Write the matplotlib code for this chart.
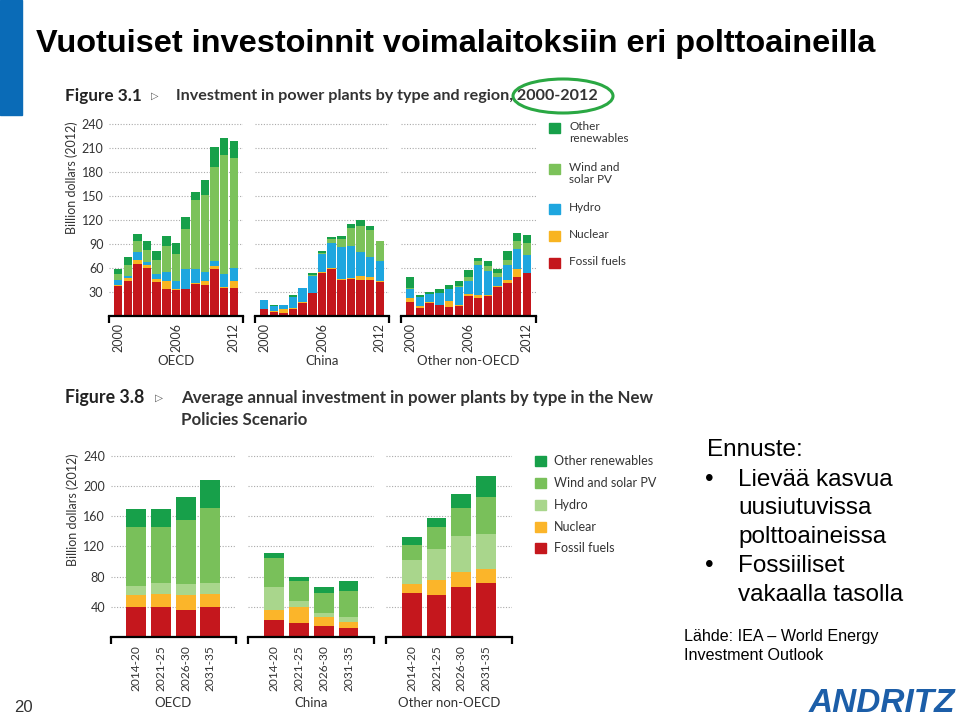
import matplotlib
matplotlib.use("Agg")
import matplotlib.pyplot as plt
from matplotlib.patches import Rectangle, Ellipse
import numpy as np

# ---------------- data ----------------
years = [str(y) for y in range(2000, 2013)]
year_ticks = ["2000", "2006", "2012"]
periods = ["2014-20", "2021-25", "2026-30", "2031-35"]
regions = ["OECD", "China", "Other non-OECD"]
series_hist = ["Fossil fuels", "Nuclear", "Hydro", "Wind and solar PV", "Other renewables"]

# historical (Figure 3.1), billion dollars (2012)
oecd_fossil = [37, 44, 65, 60, 42, 33, 32, 33, 40, 38, 58, 35, 35]
oecd_nuclear = [2, 3, 5, 3, 4, 11, 1, 1, 1, 5, 4, 1, 9]
oecd_hydro = [6, 3, 10, 4, 6, 11, 11, 25, 18, 12, 7, 16, 16]
oecd_wind = [7, 14, 14, 15, 18, 32, 33, 49, 86, 96, 117, 149, 137]
oecd_other = [7, 10, 8, 11, 11, 13, 14, 16, 10, 19, 25, 22, 22]

china_fossil = [8, 5, 3, 8, 16, 28, 53, 58, 45, 46, 45, 45, 42]
china_nuclear = [0, 1, 5, 2, 1, 1, 2, 2, 1, 1, 5, 4, 2]
china_hydro = [12, 6, 5, 13, 18, 21, 22, 31, 40, 40, 30, 24, 25]
china_wind = [0, 0, 0, 1, 0, 1, 2, 5, 10, 23, 32, 34, 25]
china_other = [0, 1, 0, 2, 0, 2, 2, 3, 4, 5, 8, 5, 0]

onon_fossil = [17, 10, 16, 13, 11, 12, 25, 22, 25, 36, 41, 49, 54]
onon_nuclear = [5, 2, 1, 1, 7, 1, 2, 4, 1, 1, 4, 10, 0]
onon_hydro = [12, 12, 10, 14, 15, 23, 17, 37, 30, 11, 18, 24, 22]
onon_wind = [1, 0, 0, 0, 1, 1, 4, 5, 6, 6, 7, 11, 15]
onon_other = [13, 2, 3, 6, 4, 7, 9, 4, 6, 5, 11, 9, 10]

# projections (Figure 3.8)
p_oecd_fossil = [39, 39, 35, 39]
p_oecd_nuclear = [16, 18, 20, 18]
p_oecd_hydro = [12, 14, 15, 14]
p_oecd_wind = [78, 74, 85, 100]
p_oecd_other = [25, 25, 30, 37]

p_china_fossil = [23, 18, 15, 12]
p_china_nuclear = [13, 21, 12, 8]
p_china_hydro = [30, 8, 5, 6]
p_china_wind = [38, 27, 26, 35]
p_china_other = [7, 6, 8, 13]

p_onon_fossil = [58, 56, 66, 71]
p_onon_nuclear = [12, 19, 20, 19]
p_onon_hydro = [32, 41, 48, 47]
p_onon_wind = [20, 29, 37, 49]
p_onon_other = [10, 12, 19, 27]

yticks_top = [30, 60, 90, 120, 150, 180, 210, 240]
yticks_bot = [40, 80, 120, 160, 200, 240]

# ---------------- styles ----------------
W, H = 960, 720
col_top = ["#c4161c", "#f8b421", "#1ea6df", "#7cc25a", "#17a04a"]
col_bot = ["#c5171d", "#fbb52a", "#a9d68c", "#79c05a", "#17a04a"]
chart_font = ["Lato", "DejaVu Sans"]
txtc = "#333333"

fig = plt.figure(figsize=(9.6, 7.2), dpi=100)
fig.patch.set_facecolor("white")


def fx(x):
    return x / W


def fy(y):
    return 1 - y / H


def add_ax(x0, x1, ytop, ybot):
    return fig.add_axes([fx(x0), fy(ybot), fx(x1) - fx(x0), (ybot - ytop) / H])


def style_ax(ax, yticks, show_y, xlim, ylim):
    ax.set_xlim(*xlim)
    ax.set_ylim(*ylim)
    for s in ["top", "right", "left"]:
        ax.spines[s].set_visible(False)
    ax.spines["bottom"].set_linewidth(1.6)
    ax.spines["bottom"].set_color("black")
    ax.set_yticks(yticks)
    ax.yaxis.grid(True, linestyle=(0, (1, 1.5)), color="#aaaaaa", linewidth=0.8)
    ax.set_axisbelow(True)
    ax.tick_params(axis="y", length=0, labelsize=9, labelcolor=txtc, pad=4)
    if not show_y:
        ax.tick_params(axis="y", labelleft=False)
    ax.set_xticks([xlim[0], xlim[1]], minor=True)
    ax.tick_params(axis="x", which="minor", length=5, width=1.6, color="black", direction="out")
    ax.set_facecolor("none")
    for lab in ax.get_yticklabels():
        lab.set_family(chart_font)


def stack(ax, x, series, colors, width):
    bottom = np.zeros(len(x))
    for vals, c in zip(series, colors):
        v = np.array(vals, dtype=float)
        ax.bar(x, v, width=width, bottom=bottom, color=c, edgecolor="none")
        bottom += v


# ---------------- top charts ----------------
top_data = [
    [oecd_fossil, oecd_nuclear, oecd_hydro, oecd_wind, oecd_other],
    [china_fossil, china_nuclear, china_hydro, china_wind, china_other],
    [onon_fossil, onon_nuclear, onon_hydro, onon_wind, onon_other],
]
top_x = [(109, 243), (255, 389), (401, 536)]
ytop_t, ybot_t = 120, 315.7
for i, (data, (x0, x1)) in enumerate(zip(top_data, top_x)):
    ax = add_ax(x0, x1, ytop_t, ybot_t)
    xs = np.arange(len(years))
    stack(ax, xs, data, col_top, 0.88)
    style_ax(ax, yticks_top, i == 0, (-0.95, 12.95), (0, 245))
    ax.set_xticks([years.index(t) for t in year_ticks])
    ax.set_xticklabels(year_ticks, rotation=90, fontsize=9, color=txtc, family=chart_font)
    ax.tick_params(axis="x", which="major", length=0, pad=5)
    fig.text(fx((x0 + x1) / 2), fy(361), regions[i], ha="center", va="center",
             fontsize=9.5, color=txtc, family=chart_font)

fig.text(fx(72), fy(178), "Billion dollars (2012)", rotation=90, ha="center", va="center",
         fontsize=9, color=txtc, family=chart_font)

# ---------------- bottom charts ----------------
bot_data = [
    [p_oecd_fossil, p_oecd_nuclear, p_oecd_hydro, p_oecd_wind, p_oecd_other],
    [p_china_fossil, p_china_nuclear, p_china_hydro, p_china_wind, p_china_other],
    [p_onon_fossil, p_onon_nuclear, p_onon_hydro, p_onon_wind, p_onon_other],
]
bot_x = [(110.7, 235.7), (248.3, 374), (386, 511.7)]
ytop_b, ybot_b = 452, 636.9
for i, (data, (x0, x1)) in enumerate(zip(bot_data, bot_x)):
    ax = add_ax(x0, x1, ytop_b, ybot_b)
    xs = np.arange(len(periods))
    stack(ax, xs, data, col_bot, 0.8)
    style_ax(ax, yticks_bot, i == 0, (-1.04, 4.03), (0, 245))
    ax.set_xticks(xs)
    ax.set_xticklabels(periods, rotation=90, fontsize=8.6, color=txtc, family=chart_font)
    ax.tick_params(axis="x", which="major", length=0, pad=6)
    fig.text(fx((x0 + x1) / 2), fy(703), regions[i], ha="center", va="center",
             fontsize=9.5, color=txtc, family=chart_font)

fig.text(fx(73), fy(510), "Billion dollars (2012)", rotation=90, ha="center", va="center",
         fontsize=9, color=txtc, family=chart_font)

# ---------------- legends ----------------
top_leg_labels = ["Other\nrenewables", "Wind and\nsolar PV", "Hydro", "Nuclear", "Fossil fuels"]
top_leg_y = [128, 169, 209, 236, 263]
top_leg_cols = col_top[::-1]
for lab, y, c in zip(top_leg_labels, top_leg_y, top_leg_cols):
    fig.patches.append(Rectangle((fx(549), fy(y + 5)), 11 / W, 10 / H,
                                 transform=fig.transFigure, color=c))
    fig.text(fx(569), fy(y - 7), lab, ha="left", va="top", fontsize=8.5,
             color=txtc, family=chart_font, linespacing=1.15)

bot_leg_labels = ["Other renewables", "Wind and solar PV", "Hydro", "Nuclear", "Fossil fuels"]
bot_leg_y = [461, 483, 505, 527, 548]
bot_leg_cols = col_bot[::-1]
for lab, y, c in zip(bot_leg_labels, bot_leg_y, bot_leg_cols):
    fig.patches.append(Rectangle((fx(535), fy(y + 5)), 11 / W, 10 / H,
                                 transform=fig.transFigure, color=c))
    fig.text(fx(554), fy(y), lab, ha="left", va="center", fontsize=9,
             color=txtc, family=chart_font)

# ---------------- captions ----------------
fig.text(fx(65), fy(96), "Figure 3.1", ha="left", va="center", fontsize=12.3,
         fontweight="bold", color="#222222", family=chart_font)
fig.text(fx(151), fy(96), "\u25B7", ha="left", va="center", fontsize=7,
         color="#555555", family=["DejaVu Sans"])
fig.text(fx(176), fy(96), "Investment in power plants by type and region, 2000-2012",
         ha="left", va="center", fontsize=11.6, fontweight="bold", color="#333333",
         family=chart_font)
fig.patches.append(Ellipse((fx(563), fy(96)), 100 / W, 34 / H, transform=fig.transFigure,
                           fill=False, edgecolor="#2aa843", linewidth=2.2))

fig.text(fx(65), fy(398), "Figure 3.8", ha="left", va="center", fontsize=12.8,
         fontweight="bold", color="#222222", family=chart_font)
fig.text(fx(155), fy(398), "\u25B7", ha="left", va="center", fontsize=7.5,
         color="#555555", family=["DejaVu Sans"])
fig.text(fx(181), fy(398), "Average annual investment in power plants by type in the New",
         ha="left", va="center", fontsize=12.2, fontweight="bold", color="#333333",
         family=chart_font)
fig.text(fx(181), fy(420), "Policies Scenario", ha="left", va="center", fontsize=12.2,
         fontweight="bold", color="#333333", family=chart_font)

# ---------------- slide elements ----------------
fig.patches.append(Rectangle((0, fy(115)), 22 / W, 115 / H, transform=fig.transFigure,
                             color="#0a6bb7"))
fig.text(fx(36), fy(44), "Vuotuiset investoinnit voimalaitoksiin eri polttoaineilla",
         ha="left", va="center", fontsize=23.4, fontweight="bold", color="black",
         family=["Liberation Sans", "DejaVu Sans"])

sans = ["Liberation Sans", "DejaVu Sans"]
fig.text(fx(707), fy(450), "Ennuste:", ha="left", va="center", fontsize=17.5, family=sans)
lines = [("\u2022", "Lievää kasvua", 480), (None, "uusiutuvissa", 508),
         (None, "polttoaineissa", 537), ("\u2022", "Fossiiliset", 566),
         (None, "vakaalla tasolla", 595)]
for b, t, y in lines:
    if b:
        fig.text(fx(705), fy(y), b, ha="left", va="center", fontsize=17.5, family=sans)
    fig.text(fx(738), fy(y), t, ha="left", va="center", fontsize=17.5, family=sans)

fig.text(fx(684), fy(636), "Lähde: IEA \u2013 World Energy", ha="left", va="center",
         fontsize=11.6, family=sans)
fig.text(fx(684), fy(656), "Investment Outlook", ha="left", va="center",
         fontsize=11.6, family=sans)

fig.text(fx(14), fy(708), "20", ha="left", va="center", fontsize=12, color="#333333",
         family=sans)
fig.text(fx(955), fy(704), "ANDRITZ", ha="right", va="center", fontsize=24,
         fontweight="bold", fontstyle="italic", color="#1c5ea8", family=sans)

fig.savefig("out.png", dpi=100)
